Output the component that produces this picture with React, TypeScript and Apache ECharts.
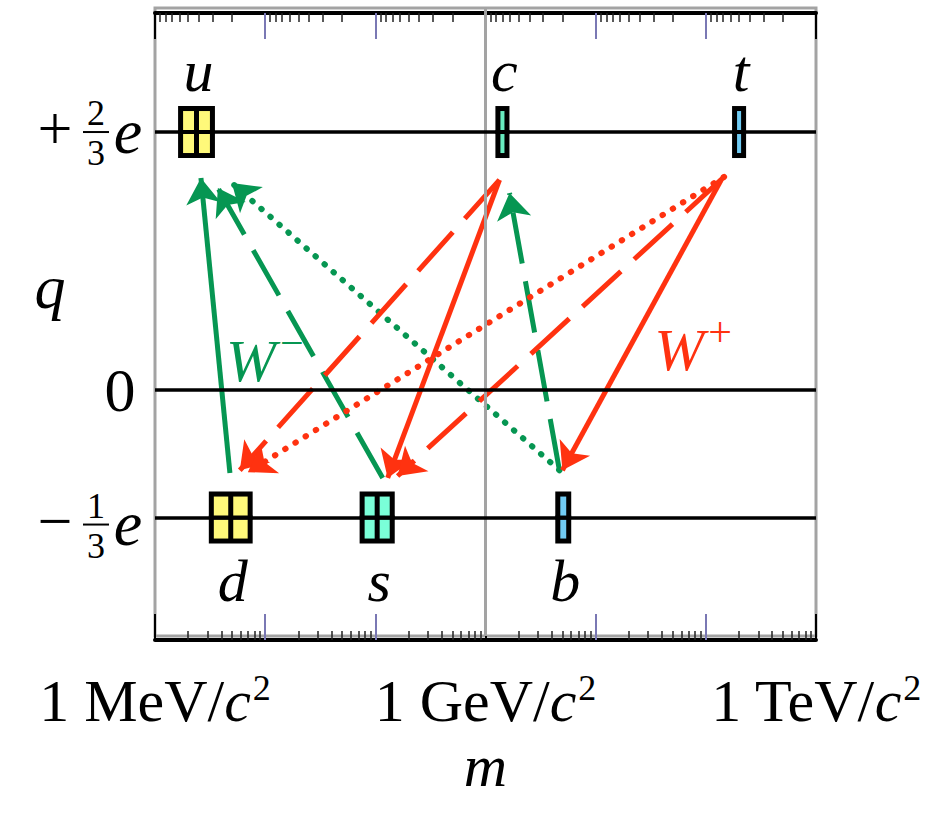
import React, { useEffect, useRef } from 'react';
import * as echarts from 'echarts';

const FONT = '"Liberation Serif", "Times New Roman", serif';

// ---- quarks: mass range (box extent) in MeV/c^2 and charge in units of e
const QUARK_NAMES = ['u', 'd', 's', 'c', 'b', 't'];
const QUARK_CHARGE = [2 / 3, -1 / 3, -1 / 3, 2 / 3, -1 / 3, 2 / 3];
const QUARK_MASS_LOW_MEV = [1.62, 3.08, 72, 1230, 4300, 173000];
const QUARK_MASS_HIGH_MEV = [3.5, 7.7, 150, 1650, 6000, 232000];

// ---- axis ticks / labels (x in decades above 1 MeV/c^2)
const X_LABEL_DECADES = [0, 3, 6];
const X_LABEL_UNITS = ['MeV', 'GeV', 'TeV'];
const X_MAJOR_COLORED = [1, 2, 4, 5];
const X_MAJOR_BLACK = [0, 3, 6];
const DECADES = [0, 1, 2, 3, 4, 5];
const MINOR_MULTIPLES = [2, 3, 4, 5, 6, 7, 8, 9];

const Y_TICK_VALUES = [2 / 3, 0, -1 / 3];
const Y_TICK_SIGN = ['+', '', '\u2212'];
const Y_TICK_NUM = ['2', '0', '1'];
const Y_TICK_DEN = ['3', '', '3'];

// ---- W transitions: endpoints in (log10(m / MeV), q)
const ARROW_BOSON = ['W-', 'W-', 'W-', 'W-', 'W+', 'W+', 'W+', 'W+', 'W+'];
const ARROW_KIND = ['solid', 'dashed', 'dotted', 'dashed', 'dashed', 'solid', 'dotted', 'dashed', 'solid'];
const ARROW_FROM = [
  [0.68, -0.215], [2.067, -0.228], [3.671, -0.208], [3.671, -0.208],
  [3.127, 0.545], [3.127, 0.545], [5.166, 0.553], [5.166, 0.553], [5.139, 0.545],
];
const ARROW_TO = [
  [0.417, 0.55], [0.571, 0.524], [0.698, 0.537], [3.218, 0.511],
  [0.77, -0.208], [2.112, -0.228], [0.843, -0.213], [2.202, -0.223], [3.698, -0.208],
];

const BOSON_NAMES = ['W-', 'W+'];
const BOSON_LABEL_AT = [[0.997, 0.075], [4.885, 0.104]];

// ---- styles
const GREEN = '#069652';
const RED = '#ff3210';
const BOSON_COLOR: Record<string, string> = { 'W-': GREEN, 'W+': RED };
const QUARK_FILL = ['#fff97a', '#fff97a', '#7affd8', '#68ecc0', '#70cbf3', '#70cbf3'];
const DASH: Record<string, any> = { solid: 'solid', dashed: [52, 18], dotted: [0.5, 11.5] };

const log10 = (v: number) => Math.log10(v);
const minorTicks = DECADES.flatMap((d) => MINOR_MULTIPLES.map((k) => d + log10(k)));
const minorTicksReversed = DECADES.flatMap((d) => MINOR_MULTIPLES.map((k) => d + 1 - log10(k)));

function tickAxis(position: 'top' | 'bottom', values: number[], length: number, color: string, width: number, showLine = false): any {
  return {
    type: 'value',
    position,
    min: 0,
    max: 6,
    offset: position === 'top' ? -5 : 4,
    axisLine: { show: showLine, onZero: false, lineStyle: { color: '#000', width: 4 } },
    axisTick: { show: true, inside: true, length, customValues: values, lineStyle: { color, width } },
    axisLabel: { show: false },
    splitLine: { show: false },
  };
}

export default function App() {
  const ref = useRef<HTMLDivElement>(null);
  useEffect(() => {
    if (!ref.current) return;
    const chart = echarts.init(ref.current, undefined, { renderer: 'svg' });

    const quarkData = QUARK_NAMES.map((_, i) => [
      log10(QUARK_MASS_LOW_MEV[i]), QUARK_CHARGE[i], log10(QUARK_MASS_HIGH_MEV[i]), i,
    ]);

    const arrowData = ARROW_FROM.map((from, i) => ({
      coords: [from, ARROW_TO[i]],
      lineStyle: {
        color: BOSON_COLOR[ARROW_BOSON[i]],
        width: ARROW_KIND[i] === 'dotted' ? 6 : 5,
        type: DASH[ARROW_KIND[i]],
        cap: ARROW_KIND[i] === 'dotted' ? 'round' : 'butt',
        opacity: 1,
      },
    }));

    const xAxisMain: any = {
      type: 'value',
      position: 'bottom',
      min: 0,
      max: 6,
      offset: 4,
      axisLine: { show: true, onZero: false, lineStyle: { color: '#000', width: 4 } },
      axisTick: { show: true, inside: true, length: 9, customValues: minorTicks, lineStyle: { color: '#222', width: 1.5 } },
      axisLabel: {
        show: true,
        customValues: X_LABEL_DECADES,
        margin: 30,
        showMinLabel: true,
        showMaxLabel: true,
        hideOverlap: false,
        formatter: (v: number) => {
          const i = X_LABEL_DECADES.indexOf(Math.round(v));
          return `{n|1 ${X_LABEL_UNITS[i]}/}{c|c}{s|2}`;
        },
        rich: {
          n: { fontFamily: FONT, fontSize: 60, color: '#000' },
          c: { fontFamily: FONT, fontSize: 60, fontStyle: 'italic', color: '#000' },
          s: { fontFamily: FONT, fontSize: 36, color: '#000', padding: [0, 0, 26, 2] },
        },
      },
      splitLine: { show: false },
      name: 'm',
      nameLocation: 'middle',
      nameGap: 93,
      nameTextStyle: { fontFamily: FONT, fontStyle: 'italic', fontSize: 60, color: '#000' },
    };

    const option: any = {
      animation: false,
      backgroundColor: '#fff',
      grid: {
        left: 155,
        right: 128,
        top: 8,
        bottom: 180,
        show: true,
        borderColor: '#a3a3a3',
        borderWidth: 3,
        backgroundColor: 'transparent',
      },
      xAxis: [
        xAxisMain,
        tickAxis('bottom', X_MAJOR_COLORED, 26, '#7a78b4', 2),
        tickAxis('bottom', X_MAJOR_BLACK, 26, '#000', 2),
        tickAxis('top', minorTicksReversed, 9, '#222', 1.5, true),
        tickAxis('top', X_MAJOR_COLORED, 26, '#7a78b4', 2),
        tickAxis('top', X_MAJOR_BLACK, 26, '#000', 2),
      ],
      yAxis: {
        type: 'value',
        min: -0.638,
        max: 0.991,
        axisLine: { show: false, onZero: false },
        axisTick: { show: false },
        axisLabel: { show: false },
        splitLine: { show: false },
      },
      graphic: [
        {
          type: 'text',
          x: 50,
          y: 287,
          style: {
            text: 'q',
            fontFamily: FONT,
            fontStyle: 'italic',
            fontSize: 62,
            fill: '#000',
            align: 'center',
            verticalAlign: 'middle',
            textAlign: 'center',
            textVerticalAlign: 'middle',
          },
        },
      ],
      series: [
        {
          type: 'scatter',
          data: [],
          silent: true,
          z: 1,
          markLine: {
            silent: true,
            symbol: 'none',
            label: { show: false },
            animation: false,
            data: [
              { xAxis: 3, lineStyle: { color: '#a3a3a3', width: 3, type: 'solid' } },
              ...Y_TICK_VALUES.map((v) => ({ yAxis: v, lineStyle: { color: '#000', width: 3.5, type: 'solid' } })),
            ],
          },
        },
        {
          type: 'custom',
          z: 3,
          silent: true,
          clip: false,
          data: quarkData,
          renderItem: (params: any, api: any) => {
            const i = api.value(3);
            const q = api.value(1);
            const lo = api.coord([api.value(0), q]);
            const hi = api.coord([api.value(2), q]);
            const x0 = lo[0];
            const w = hi[0] - lo[0];
            const yc = lo[1] - 1;
            const h = 52;
            const b = 5;
            const fill = QUARK_FILL[i];
            const children: any[] = [
              { type: 'rect', shape: { x: x0, y: yc - h / 2, width: w, height: h }, style: { fill: '#000' } },
            ];
            if (w > 25) {
              const gap = 5;
              const cw = (w - 2 * b - gap) / 2;
              children.push({ type: 'rect', shape: { x: x0 + b, y: yc - h / 2 + b, width: cw, height: h - 2 * b }, style: { fill } });
              children.push({ type: 'rect', shape: { x: x0 + b + cw + gap, y: yc - h / 2 + b, width: cw, height: h - 2 * b }, style: { fill } });
            } else {
              children.push({ type: 'rect', shape: { x: x0 + b, y: yc - h / 2 + b, width: w - 2 * b, height: h - 2 * b }, style: { fill } });
            }
            children.push({ type: 'rect', shape: { x: x0, y: yc - 2, width: w, height: 4 }, style: { fill: '#000' } });
            const up = q > 0;
            children.push({
              type: 'text',
              x: x0 + w / 2 + 2,
              y: up ? yc - 61 : yc + 63,
              style: {
                text: QUARK_NAMES[i],
                fontFamily: FONT,
                fontStyle: 'italic',
                fontSize: 60,
                fill: '#000',
                align: 'center',
                verticalAlign: 'middle',
              },
            });
            return { type: 'group', children };
          },
        },
        {
          type: 'custom',
          z: 3,
          silent: true,
          clip: false,
          data: Y_TICK_VALUES.map((v, i) => [0, v, i]),
          renderItem: (params: any, api: any) => {
            const i = api.value(2);
            const v = api.value(1);
            const p = api.coord([0, v]);
            const x0 = p[0];
            const y = p[1] + (v < 0 ? 7 : 0);
            const txt = (text: string, x: number, yy: number, size: number, italic = false) => ({
              type: 'text',
              x,
              y: yy,
              style: {
                text,
                fontFamily: FONT,
                fontStyle: italic ? 'italic' : 'normal',
                fontSize: size,
                fill: '#000',
                align: 'center',
                verticalAlign: 'middle',
              },
            });
            if (!Y_TICK_SIGN[i]) {
              return { type: 'group', children: [txt(Y_TICK_NUM[i], x0 - 35, y, 62)] };
            }
            return {
              type: 'group',
              children: [
                txt(Y_TICK_SIGN[i], x0 - 100, y - 5, 62),
                txt(Y_TICK_NUM[i], x0 - 59, y - 20, 36),
                { type: 'line', shape: { x1: x0 - 72, y1: y - 1, x2: x0 - 46, y2: y - 1 }, style: { stroke: '#000', lineWidth: 2 } },
                txt(Y_TICK_DEN[i], x0 - 59, y + 20, 36),
                txt('e', x0 - 27, y - 2, 64, true),
              ],
            };
          },
        },
        {
          type: 'lines',
          coordinateSystem: 'cartesian2d',
          z: 4,
          silent: true,
          polyline: false,
          symbol: ['none', 'arrow'],
          symbolSize: [0, 26],
          data: arrowData,
        },
        {
          type: 'scatter',
          z: 5,
          silent: true,
          symbolSize: 0,
          itemStyle: { opacity: 1 },
          data: BOSON_NAMES.map((n, i) => ({ name: n, value: BOSON_LABEL_AT[i] })),
          label: {
            show: true,
            position: 'inside',
            opacity: 1,
            formatter: (p: any) => (p.name === 'W-' ? '{g|W}{gs|\u2212}' : '{r|W}{rs|+}'),
            rich: {
              g: { fontFamily: FONT, fontStyle: 'italic', fontSize: 60, color: GREEN, opacity: 1 },
              gs: { fontFamily: FONT, fontSize: 42, color: GREEN, opacity: 1, padding: [0, 0, 36, 4] },
              r: { fontFamily: FONT, fontStyle: 'italic', fontSize: 60, color: RED, opacity: 1 },
              rs: { fontFamily: FONT, fontSize: 42, color: RED, opacity: 1, padding: [0, 0, 36, 4] },
            },
          },
        },
      ],
    };

    chart.setOption(option);
    return () => chart.dispose();
  }, []);

  return <div ref={ref} style={{ position: 'fixed', left: 0, top: 0, width: 944, height: 816 }} />;
}
